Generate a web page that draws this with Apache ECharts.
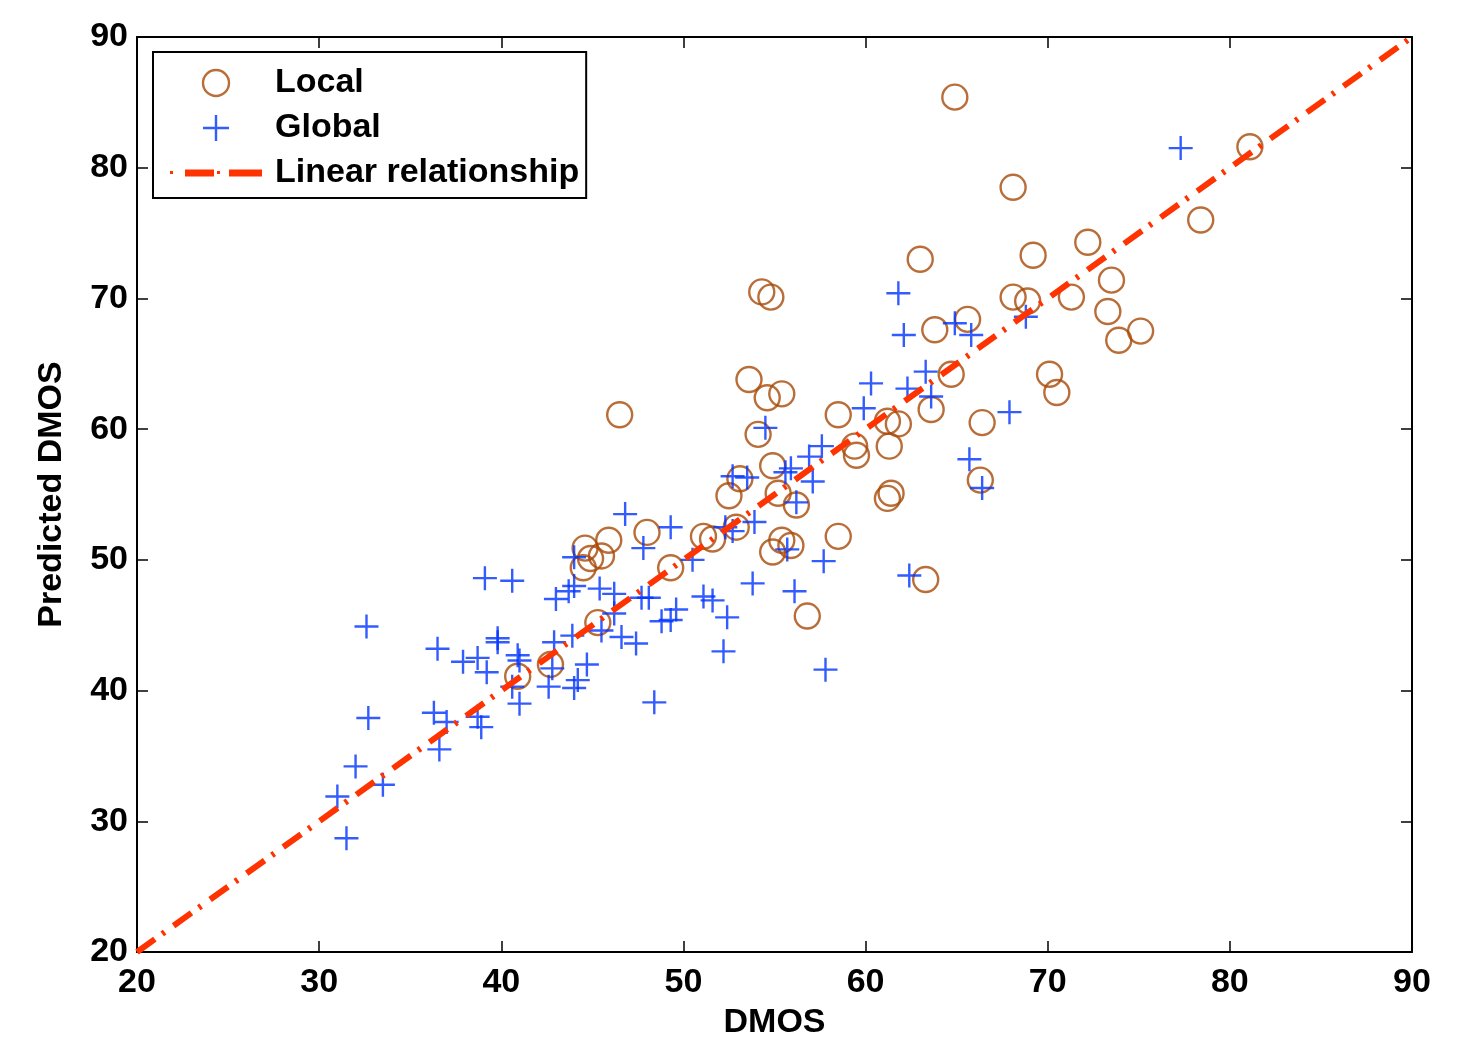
<!DOCTYPE html>
<html>
<head>
<meta charset="utf-8">
<script src="https://cdn.jsdelivr.net/npm/echarts@6/dist/echarts.min.js"></script>
<style>
html,body{margin:0;padding:0;background:#fff;}
#chart{width:1462px;height:1038px;}
</style>
</head>
<body>
<div id="chart"></div>
<script>
// ---- data ----
const localX = [64.9,81.1,68.1,78.4,72.2,63.0,69.2,73.5,54.3,54.8,68.1,68.9,71.3,73.3,65.6,63.8,75.1,73.9,53.6,64.7,70.1,70.5,55.4,54.6,63.6,46.5,58.5,54.1,61.2,61.8,66.4,59.4,59.5,61.3,54.9,53.1,66.3,52.5,55.2,56.2,61.4,61.2,52.9,48.0,51.1,51.6,45.9,44.6,55.4,55.9,58.5,45.5,44.9,54.9,44.5,49.3,45.3,56.8,63.3,40.9,42.7];
const localY = [85.4,81.6,78.5,76.0,74.3,73.0,73.3,71.4,70.5,70.1,70.1,69.8,70.1,69.0,68.4,67.6,67.5,66.8,63.8,64.2,64.2,62.8,62.7,62.4,61.5,61.1,61.1,59.6,60.6,60.4,60.5,58.7,58.0,58.7,57.2,56.2,56.1,54.9,55.1,54.2,55.1,54.7,52.5,52.1,51.8,51.6,51.5,50.9,51.5,51.1,51.8,50.3,50.1,50.6,49.4,49.4,45.2,45.7,48.5,41.1,42.0];
const globalX = [31.0,32.0,31.5,32.7,33.5,32.6,36.5,36.3,37.0,36.6,37.9,38.7,39.1,40.6,39.8,39.8,39.2,40.9,41.0,40.6,41.0,38.7,38.9,43.0,43.7,44.0,44.0,42.9,43.9,42.8,44.7,42.6,44.2,44.0,45.4,46.2,47.7,48.1,46.2,45.5,46.6,47.4,46.8,47.8,49.3,50.5,48.8,49.3,49.6,51.1,51.6,52.4,52.2,48.4,52.3,52.7,53.9,52.7,53.5,54.5,55.6,55.9,56.2,55.7,53.8,56.1,57.7,57.8,57.6,56.9,57.1,59.9,60.3,61.8,62.1,62.3,63.3,63.6,64.9,65.8,68.8,67.9,65.7,66.4,62.4,77.3];
const globalY = [31.9,34.2,28.7,37.9,32.8,44.9,43.2,38.3,37.6,35.5,42.2,42.5,48.6,48.4,44.0,43.7,41.4,42.7,42.3,40.3,39.0,38.0,37.2,47.0,47.6,48.0,50.2,43.7,44.2,41.7,42.0,40.3,40.8,40.2,47.8,47.4,47.1,47.1,45.9,44.6,44.1,43.6,53.5,50.9,52.5,50.0,45.3,45.4,46.2,47.2,46.9,45.6,43.0,39.1,52.5,52.2,52.9,56.4,56.3,60.1,56.7,57.0,54.4,50.8,48.2,47.6,49.9,41.6,58.7,57.9,56.0,61.6,63.5,70.4,67.2,63.1,64.4,62.5,68.1,67.2,68.6,61.3,57.7,55.5,48.8,81.5];
const lineX = [20, 90];
const lineY = [20, 90];
const axisMin = 20, axisMax = 90, axisStep = 10;
const seriesNames = ['Local', 'Global', 'Linear relationship'];
const xName = 'DMOS';
const yName = 'Predicted DMOS';

// ---- styles ----
const FONT = "'Liberation Sans', Arial, Helvetica, sans-serif";
const FS = 34;
const BROWN = '#a84a08';
const BLUE = '#0033ff';
const RED = '#ff3300';
const MW = 2.4;
const CROSS = 'path://M12,0L12,24M0,12L24,12';
const DASHICON = 'path://M0,10.5L3,10.5L3,13.5L0,13.5Z M15,9L44,9L44,16L15,16Z M47,10.5L50,10.5L50,13.5L47,13.5Z M59,9L92,9L92,16L59,16Z';

const zip = (a, b) => a.map((v, i) => [v, b[i]]);
const txt = {color: '#000', fontSize: FS, fontFamily: FONT, fontWeight: 'bold'};

function mkAxis(pos, isX, show) {
  return {
    type: 'value', position: pos, min: axisMin, max: axisMax, interval: axisStep,
    axisLine: {show: true, onZero: false, lineStyle: {color: '#000', width: 2}},
    axisTick: {show: true, inside: true, length: 11, lineStyle: {color: '#000', width: 1.5}},
    axisLabel: Object.assign({show: show, margin: isX ? 14 : 9}, txt),
    splitLine: {show: false}
  };
}

const xBottom = Object.assign(mkAxis('bottom', true, true), {
  name: xName, nameLocation: 'middle', nameGap: 54, nameTextStyle: txt
});
const yLeft = Object.assign(mkAxis('left', false, true), {
  name: yName, nameLocation: 'middle', nameGap: 68, nameTextStyle: txt
});

const chart = echarts.init(document.getElementById('chart'), null, {renderer: 'canvas'});
chart.setOption({
  backgroundColor: '#fff',
  animation: false,
  grid: {left: 137, right: 50, top: 37, bottom: 86, containLabel: false, outerBoundsMode: 'none'},
  xAxis: [xBottom, mkAxis('top', true, false)],
  yAxis: [yLeft, mkAxis('right', false, false)],
  legend: {
    orient: 'vertical', left: 153, top: 52,
    padding: [13, 7, 7, 17], itemGap: 9, itemWidth: 92, itemHeight: 26,
    backgroundColor: '#fff', borderColor: '#000', borderWidth: 2, borderRadius: 0,
    textStyle: Object.assign({lineHeight: 36, padding: [0, 0, 0, 8]}, txt),
    data: [
      {name: seriesNames[0], icon: 'circle', itemStyle: {color: 'rgba(0,0,0,0)', borderColor: BROWN, borderWidth: MW}},
      {name: seriesNames[1], icon: CROSS, itemStyle: {color: 'rgba(0,0,0,0)', borderColor: BLUE, borderWidth: MW}},
      {name: seriesNames[2], icon: DASHICON, itemStyle: {color: RED, borderWidth: 0}}
    ]
  },
  series: [
    {
      name: seriesNames[0], type: 'scatter', data: zip(localX, localY),
      symbol: 'circle', symbolSize: 25, z: 2,
      itemStyle: {color: 'rgba(0,0,0,0)', borderColor: BROWN, borderWidth: MW},
      emphasis: {disabled: true}
    },
    {
      name: seriesNames[1], type: 'scatter', data: zip(globalX, globalY),
      symbol: CROSS, symbolSize: 24, z: 3,
      itemStyle: {color: 'rgba(0,0,0,0)', borderColor: BLUE, borderWidth: MW},
      emphasis: {disabled: true}
    },
    {
      name: seriesNames[2], type: 'line', data: zip(lineX, lineY),
      symbol: 'none', z: 4,
      lineStyle: {color: RED, width: 6, type: [22, 9, 3, 11]},
      itemStyle: {color: RED},
      emphasis: {disabled: true}
    }
  ]
});
</script>
</body>
</html>
